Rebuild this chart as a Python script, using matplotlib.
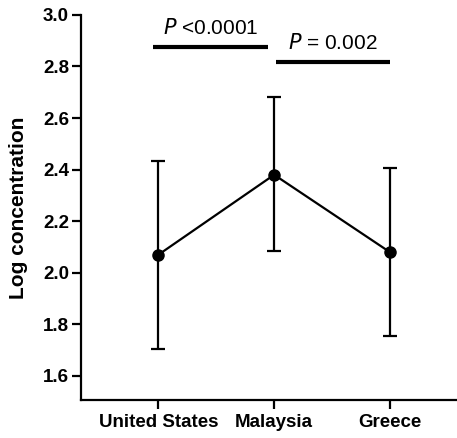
import matplotlib.pyplot as plt
import numpy as np

plt.rcParams['font.family'] = ['Liberation Sans', 'DejaVu Sans']

countries = ["United States", "Malaysia", "Greece"]
means = [2.07, 2.38, 2.08]
lower = [1.705, 2.085, 1.755]
upper = [2.432, 2.68, 2.405]

# significance bars: (x start, x end, y, label)
sig_x = [(-0.05, 0.95), (1.02, 2.0)]
sig_y = [2.877, 2.818]
sig_labels = [r"$\it{P}$ <0.0001", r"$\it{P}$ = 0.002"]

fig = plt.figure(figsize=(4.57, 4.38), dpi=100)
ax = fig.add_axes([0.177, 0.087, 0.823, 0.879])

x = np.arange(len(countries))
means = np.array(means)
yerr = [means - np.array(lower), np.array(upper) - means]
ax.errorbar(x, means, yerr=yerr, color='black', lw=1.6, marker='o', ms=8,
            capsize=5, capthick=1.6, elinewidth=1.6)

for (x0, x1), yv, lab in zip(sig_x, sig_y, sig_labels):
    ax.plot([x0, x1], [yv, yv], color='black', lw=3, solid_capstyle='butt')
    ax.text((x0 + x1) / 2, yv + 0.05, lab, ha='center', va='baseline', fontsize=15)

ax.set_xlim(-0.67, 2.58)
ax.set_ylim(1.507, 3.0)
ax.set_yticks(np.arange(1.6, 3.01, 0.2))
ax.set_yticklabels([f"{v:.1f}" for v in np.arange(1.6, 3.01, 0.2)])
ax.set_xticks(x)
ax.set_xticklabels(countries)
ax.set_ylabel("Log concentration", fontsize=15, fontweight='bold')
ax.yaxis.set_label_coords(-0.14, 0.5)

for lab in ax.get_xticklabels() + ax.get_yticklabels():
    lab.set_fontweight('bold')
    lab.set_fontsize(13.5)

ax.spines['top'].set_visible(False)
ax.spines['right'].set_visible(False)
ax.spines['left'].set_linewidth(1.6)
ax.spines['bottom'].set_linewidth(1.6)
ax.tick_params(width=1.6, length=6.5)
ax.tick_params(axis='x', pad=4)
ax.tick_params(axis='y', pad=2)

fig.savefig("out.png", dpi=100)
